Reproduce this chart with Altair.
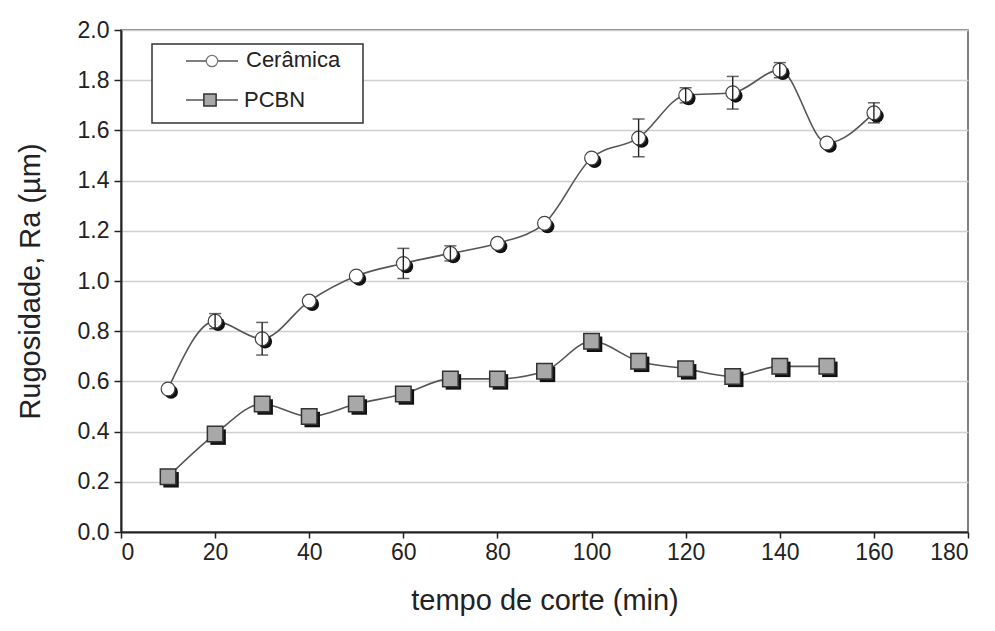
import altair as alt
import pandas as pd

# ---- data ----
tempo_ceramica = [10, 20, 30, 40, 50, 60, 70, 80, 90, 100, 110, 120, 130, 140, 150, 160]
ra_ceramica = [0.57, 0.84, 0.77, 0.92, 1.02, 1.07, 1.11, 1.15, 1.23, 1.49, 1.57, 1.74, 1.75, 1.84, 1.55, 1.67]
err_ceramica = [0, 0.03, 0.065, 0, 0, 0.06, 0.03, 0, 0, 0, 0.075, 0.03, 0.065, 0.03, 0, 0.04]

tempo_pcbn = [10, 20, 30, 40, 50, 60, 70, 80, 90, 100, 110, 120, 130, 140, 150]
ra_pcbn = [0.22, 0.39, 0.51, 0.46, 0.51, 0.55, 0.61, 0.61, 0.64, 0.76, 0.68, 0.65, 0.62, 0.66, 0.66]

x_ticks = [0, 20, 40, 60, 80, 100, 120, 140, 160, 180]
y_ticks = [0.0, 0.2, 0.4, 0.6, 0.8, 1.0, 1.2, 1.4, 1.6, 1.8, 2.0]

FONT = "Liberation Sans"

cer = pd.DataFrame({"t": tempo_ceramica, "ra": ra_ceramica, "err": err_ceramica})
cer["lo"] = cer["ra"] - cer["err"]
cer["hi"] = cer["ra"] + cer["err"]
cer_err = cer[cer["err"] > 0]
pcbn = pd.DataFrame({"t": tempo_pcbn, "ra": ra_pcbn})

xs = alt.Scale(domain=[0, 180], nice=False, zero=False)
ys = alt.Scale(domain=[0, 2.0], nice=False)

x_axis = alt.Axis(values=x_ticks, title="tempo de corte (min)", grid=False,
                  labelFontSize=23, titleFontSize=29, labelPadding=3,
                  titlePadding=22, tickSize=6, format="d")
y_axis = alt.Axis(values=y_ticks, title="Rugosidade, Ra (µm)", format=".1f",
                  labelFontSize=23, titleFontSize=29, labelPadding=5,
                  titlePadding=32, tickSize=7, grid=True)

X = alt.X("t:Q", scale=xs, axis=x_axis)
Y = alt.Y("ra:Q", scale=ys, axis=y_axis)

base_c = alt.Chart(cer)
base_p = alt.Chart(pcbn)

line_c = base_c.mark_line(color="#555555", strokeWidth=1.6, interpolate="monotone").encode(x=X, y=Y)
line_p = base_p.mark_line(color="#555555", strokeWidth=1.6, interpolate="monotone").encode(x=X, y=Y)

shadow_c = base_c.mark_point(shape="circle", filled=True, color="#111111", size=190,
                             xOffset=3, yOffset=3, opacity=1).encode(x=X, y=Y)
pt_c = base_c.mark_point(shape="circle", filled=True, fill="white", stroke="#444444",
                         strokeWidth=1.2, size=190, opacity=1).encode(x=X, y=Y)

shadow_p = base_p.mark_point(shape="square", filled=True, color="#111111", size=240,
                             xOffset=3, yOffset=3, opacity=1).encode(x=X, y=Y)
pt_p = base_p.mark_point(shape="square", filled=True, fill="#a8a8a8", stroke="#333333",
                         strokeWidth=1.5, size=240, opacity=1).encode(x=X, y=Y)

eb = alt.Chart(cer_err)
err_rule = eb.mark_rule(color="#222222", strokeWidth=1.4).encode(
    x=X, y=alt.Y("lo:Q", scale=ys, axis=y_axis), y2="hi:Q")
cap_hi = eb.mark_tick(color="#222222", orient="horizontal", size=12, thickness=1.5).encode(
    x=X, y=alt.Y("hi:Q", scale=ys, axis=y_axis))
cap_lo = eb.mark_tick(color="#222222", orient="horizontal", size=12, thickness=1.5).encode(
    x=X, y=alt.Y("lo:Q", scale=ys, axis=y_axis))

# ---- legend box drawn manually ----
one = alt.Chart(pd.DataFrame({"a": [0]}))
leg_box = one.mark_rect(fill="white", stroke="#333333", strokeWidth=1.5).encode(
    x=alt.value(31), x2=alt.value(242), y=alt.value(14), y2=alt.value(93))
leg_line1 = one.mark_rule(color="#555555", strokeWidth=1.6).encode(
    x=alt.value(65), x2=alt.value(117), y=alt.value(31))
leg_line2 = one.mark_rule(color="#555555", strokeWidth=1.6).encode(
    x=alt.value(65), x2=alt.value(117), y=alt.value(70))
leg_pt1 = one.mark_point(shape="circle", filled=True, fill="white", stroke="#777777",
                         strokeWidth=1.2, size=130, opacity=1).encode(
    x=alt.value(91), y=alt.value(31))
leg_pt2 = one.mark_point(shape="square", filled=True, fill="#a8a8a8", stroke="#333333",
                         strokeWidth=1.5, size=150, opacity=1).encode(
    x=alt.value(89), y=alt.value(70))
leg_t1 = one.mark_text(text="Cerâmica", align="left", baseline="middle", font=FONT,
                       fontSize=22, color="#222222").encode(x=alt.value(125), y=alt.value(30))
leg_t2 = one.mark_text(text="PCBN", align="left", baseline="middle", font=FONT,
                       fontSize=22, color="#222222").encode(x=alt.value(123), y=alt.value(70))

chart = alt.layer(
    line_c, line_p, shadow_c, pt_c, shadow_p, pt_p, err_rule, cap_hi, cap_lo,
    leg_box, leg_line1, leg_line2, leg_pt1, leg_pt2, leg_t1, leg_t2
).properties(
    width=847, height=502,
    autosize=alt.AutoSizeParams(type="none"),
    padding={"left": 121, "top": 30, "right": 27, "bottom": 99},
    background="white",
).configure_view(
    stroke="#555555", strokeWidth=1.5
).configure_axis(
    labelFont=FONT, titleFont=FONT, labelColor="#222222", titleColor="#222222",
    domainColor="#222222", domainWidth=2, tickColor="#222222", tickWidth=1.5,
    gridColor="#d0d0d0", gridWidth=1.5, titleFontWeight="normal"
)

chart.save("out.html", embed_options={"renderer": "svg", "actions": False})
